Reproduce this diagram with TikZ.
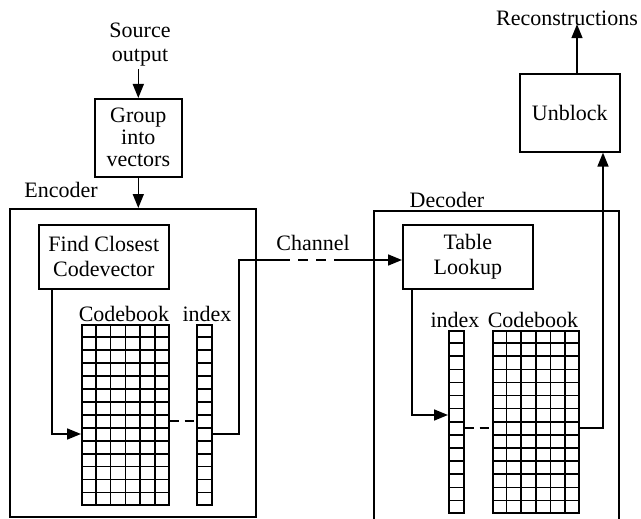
\documentclass[tikz,border=0pt]{standalone}
\usepackage{fontspec}
\setmainfont{Liberation Serif}
\usetikzlibrary{arrows.meta,calc}
\begin{document}
\begin{tikzpicture}[x=1pt,y=-1pt,
  line width=1.6pt,
  txt/.style={font=\fontsize{22}{24}\selectfont, inner sep=0pt, align=center},
  boxx/.style={draw, inner sep=0pt, font=\fontsize{22}{25}\selectfont, align=center},
  frame/.style={draw, inner sep=0pt},
  gridbox/.style={draw, inner sep=0pt, anchor=north west},
  arr/.style={-{Triangle[length=14pt,width=11pt]}},
  dsh/.style={dash pattern=on 9pt off 6pt}
]
\useasboundingbox (0,0) rectangle (641,519);
% texts
\node[txt] (src) at (140,45) {Source\\output};
\node[txt] (rec) at (567,18) {Reconstructions};
\node[txt] (enc) at (61,190) {Encoder};
\node[txt] (dec) at (447,200) {Decoder};
\node[txt] (chn) at (313,243) {Channel};
\node[txt] (cbEl) at (124,314) {Codebook};
\node[txt] (ixEl) at (207,314) {index};
\node[txt] (ixDl) at (455,320) {index};
\node[txt] (cbDl) at (533,320) {Codebook};
% frames
\node[frame, minimum width=246pt, minimum height=308pt, anchor=north west] (encF) at (9,208) {};
\node[frame, minimum width=245pt, minimum height=312pt, anchor=north west] (decF) at (373,210) {};
% boxes
\node[boxx, minimum width=87pt, minimum height=78pt, anchor=north west, font=\fontsize{22}{22}\selectfont] (grp) at (94,98) {Group\\into\\vectors};
\node[boxx, minimum width=130pt, minimum height=64pt, anchor=north west] (fcc) at (38,224) {Find Closest\\Codevector};
\node[boxx, minimum width=130pt, minimum height=64pt, anchor=north west] (tl) at (402,224) {Table\\Lookup};
\node[boxx, minimum width=100pt, minimum height=78pt, anchor=north west] (ub) at (519,73) {Unblock};
% grids
\node[gridbox, minimum width=87pt, minimum height=180pt] (cbE) at (81,324) {};
\node[gridbox, minimum width=15pt, minimum height=180pt] (ixE) at (196,324) {};
\node[gridbox, minimum width=15pt, minimum height=182pt] (ixD) at (448,330) {};
\node[gridbox, minimum width=86pt, minimum height=182pt] (cbD) at (492,330) {};
\foreach \g in {cbE,cbD}{
  \foreach \i in {1,...,5}
    \draw ($(\g.north west)!\i/6!(\g.north east)$) -- ($(\g.south west)!\i/6!(\g.south east)$);
}
\foreach \g in {cbE,cbD,ixE,ixD}{
  \foreach \j in {1,...,13}
    \draw ($(\g.north west)!\j/14!(\g.south west)$) -- ($(\g.north east)!\j/14!(\g.south east)$);
}
% encoder connectors
\draw[arr] (src.south -| grp.north) ++(0,2) -- (grp.north);
\draw[arr] (grp.south) -- (encF.north -| grp.south);
\coordinate (fcl) at (52,434);
\draw[arr] (fcc.south -| fcl) -- (fcl) -- (cbE.west |- fcl);
\coordinate (eda) at (0,421);
\draw[dsh] (cbE.east |- eda) -- (ixE.west |- eda);
\coordinate (eup) at (239,434);
\coordinate (ch1) at (280,260);
\coordinate (ch2) at (340,260);
\draw (ixE.east |- eup) -- (eup) -- (eup |- ch1) -- (ch1);
\draw[dash pattern=on 10pt off 8pt] (ch1) -- (ch2);
\draw[arr] (ch2) -- (tl.west |- ch2);
% decoder connectors
\coordinate (tld) at (412,415);
\draw[arr] (tl.south -| tld) -- (tld) -- (ixD.west |- tld);
\coordinate (dda) at (0,428);
\draw[dsh] (ixD.east |- dda) -- (cbD.west |- dda);
\coordinate (dup) at (603,428);
\draw[arr] (cbD.east |- dup) -- (dup) -- (dup |- ub.south);
\coordinate (rcx) at (577,0);
\draw[arr] (ub.north -| rcx) -- (rcx |- rec.south) -- ++(0,-2);
\end{tikzpicture}
\end{document}
